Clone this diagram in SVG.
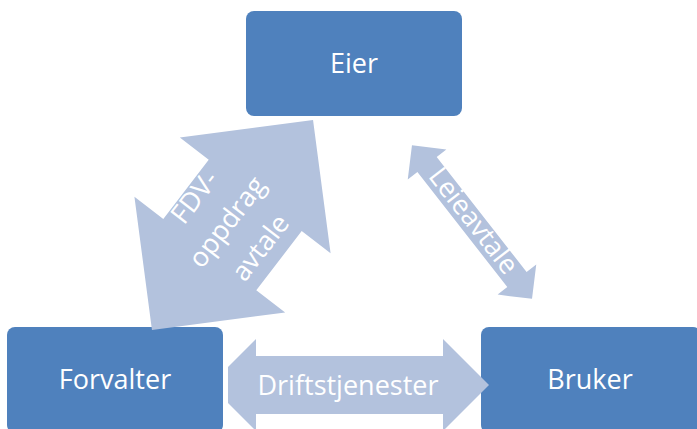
<svg xmlns="http://www.w3.org/2000/svg" width="697" height="429" viewBox="0 0 697 429">
<style>
.box{fill:#4F81BD;}
.lbl{font-family:"Open Sans","Liberation Sans",sans-serif;font-size:27px;fill:#FFFFFF;text-anchor:middle;}
.arr{fill:#B3C2DD;}
</style>
<rect width="697" height="429" fill="#FFFFFF"/>
<g id="node-eier">
<rect class="box" x="246" y="11" width="216" height="105" rx="8"/>
<text class="lbl" x="354" y="73">Eier</text>
</g>
<g id="node-forvalter">
<rect class="box" x="7" y="327" width="216" height="106" rx="8"/>
<text class="lbl" x="115" y="389">Forvalter</text>
</g>
<g id="node-bruker">
<rect class="box" x="481" y="327" width="220" height="106" rx="8"/>
<text class="lbl" x="590" y="389">Bruker</text>
</g>
<g id="connectors">
<g id="conn-fdv" transform="translate(232.5,225) rotate(-52.5)">
<polygon class="arr" points="132.3,0 37.3,-95 37.3,-58.6 -37.3,-58.6 -37.3,-95 -132.3,0 -37.3,95 -37.3,58.6 37.3,58.6 37.3,95"/>
<text class="lbl" x="-1" y="-38">FDV-</text>
<text class="lbl" x="-1" y="3">oppdrag</text>
<text class="lbl" x="-1" y="45">avtale</text>
</g>
<g id="conn-leie" transform="translate(472,222) rotate(52)">
<polygon class="arr" points="-97.5,0 -73,-24.5 -73,-12.25 73,-12.25 73,-24.5 97.5,0 73,24.5 73,12.25 -73,12.25 -73,24.5"/>
<text class="lbl" x="0" y="7">Leieavtale</text>
</g>
<g id="conn-drift">
<polygon class="arr" points="228,367 256,339 256,356 443,356 443,339 489,385 443,431 443,414 256,414 256,431 228,403"/>
<text class="lbl" x="348" y="395">Driftstjenester</text>
</g>
</g>
</svg>
